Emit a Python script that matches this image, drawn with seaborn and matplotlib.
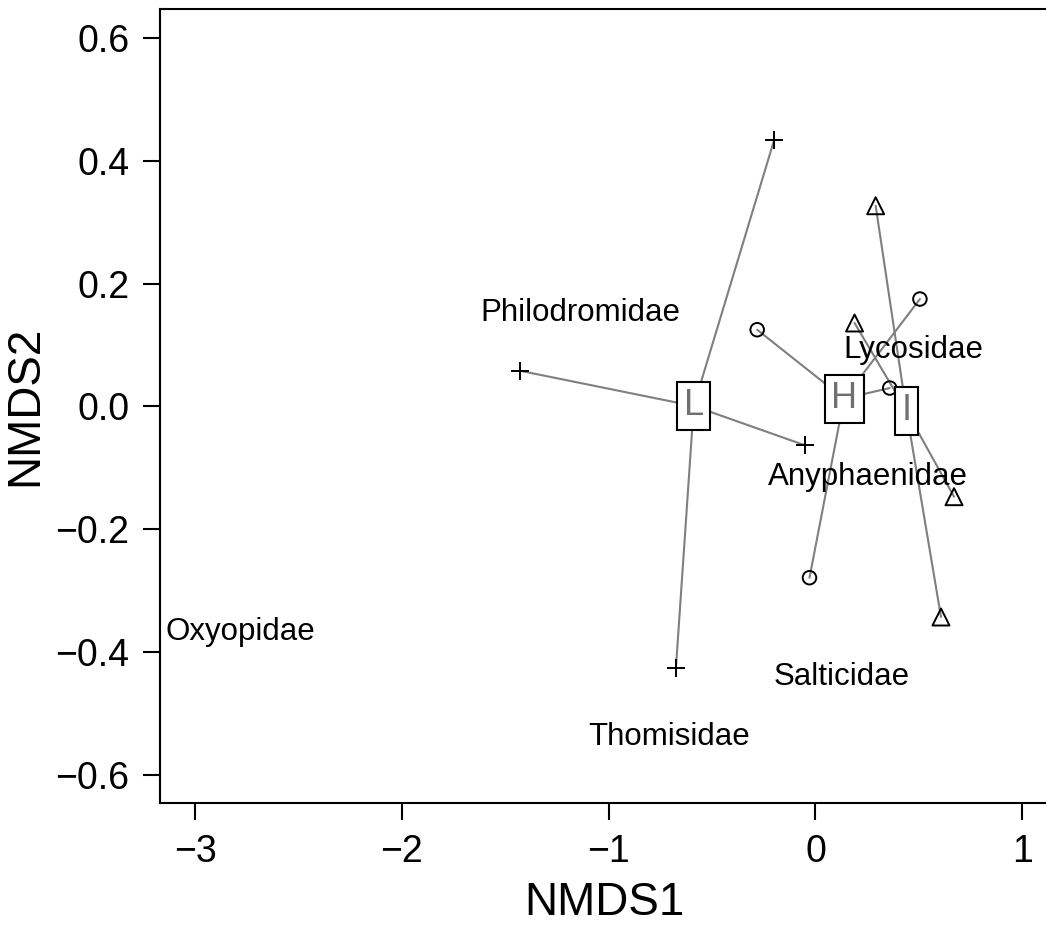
import numpy as np
import pandas as pd
import matplotlib
matplotlib.use("Agg")
import matplotlib.pyplot as plt
import seaborn as sns

# site scores (NMDS1, NMDS2) by habitat group
grp_L_x = [-0.20, -1.427, -0.053, -0.675]
grp_L_y = [0.434, 0.058, -0.063, -0.426]
grp_H_x = [-0.282, 0.505, 0.359, -0.029]
grp_H_y = [0.125, 0.175, 0.030, -0.279]
grp_I_x = [0.291, 0.189, 0.670, 0.607]
grp_I_y = [0.327, 0.136, -0.147, -0.343]

# family (species) scores
familias = ['Philodromidae', 'Lycosidae', 'Anyphaenidae', 'Oxyopidae', 'Salticidae', 'Thomisidae']
fam_x = [-1.136, 0.471, 0.252, -2.782, 0.126, -0.709]
fam_y = [0.152, 0.092, -0.115, -0.367, -0.440, -0.538]

grupos = ['L', 'H', 'I']
marcadores = {'L': '+', 'H': 'o', 'I': '^'}
tamaños = {'L': 180, 'H': 95, 'I': 150}

df = pd.concat([
    pd.DataFrame({'NMDS1': grp_L_x, 'NMDS2': grp_L_y, 'grupo': 'L'}),
    pd.DataFrame({'NMDS1': grp_H_x, 'NMDS2': grp_H_y, 'grupo': 'H'}),
    pd.DataFrame({'NMDS1': grp_I_x, 'NMDS2': grp_I_y, 'grupo': 'I'}),
], ignore_index=True)
centroides = df.groupby('grupo')[['NMDS1', 'NMDS2']].mean()

sns.set_style("ticks")
plt.rcParams['font.family'] = ['Liberation Sans', 'DejaVu Sans']

fig = plt.figure(figsize=(10.46, 9.31), dpi=100)
ax = fig.add_axes([0.153, 0.1375, 0.85, 0.8525])

# spider lines from centroid to each site
for g in grupos:
    cx, cy = centroides.loc[g]
    sub = df[df['grupo'] == g]
    for x, y in zip(sub['NMDS1'], sub['NMDS2']):
        ax.plot([cx, x], [cy, y], color='#7f7f7f', linewidth=1.5, zorder=1)

# site points
for g in grupos:
    sub = df[df['grupo'] == g]
    if marcadores[g] == '+':
        sns.scatterplot(data=sub, x='NMDS1', y='NMDS2', marker='+', s=tamaños[g],
                        color='black', linewidth=1.4, ax=ax, zorder=3, legend=False)
    else:
        sns.scatterplot(data=sub, x='NMDS1', y='NMDS2', marker=marcadores[g],
                        s=tamaños[g], facecolor='none',
                        edgecolor='black', linewidth=1.4, ax=ax, zorder=3, legend=False)

# centroid labels in boxes
for g in grupos:
    cx, cy = centroides.loc[g]
    ax.text(cx, cy, g, ha='center', va='center', fontsize=26, color='#707070',
            zorder=5,
            bbox=dict(boxstyle='square,pad=0.18', facecolor='white',
                      edgecolor='black', linewidth=1.5))

# family labels
for nombre, x, y in zip(familias, fam_x, fam_y):
    ax.text(x, y, nombre, ha='center', va='center', fontsize=22.5, color='black', zorder=4)

ax.set_xlim(-3.17, 1.13)
ax.set_ylim(-0.646, 0.647)
ax.set_xticks([-3, -2, -1, 0, 1])
ax.set_xticklabels(['\u22123', '\u22122', '\u22121', '0', '1'])
ax.set_yticks([-0.6, -0.4, -0.2, 0.0, 0.2, 0.4, 0.6])
ax.set_yticklabels(['\u22120.6', '\u22120.4', '\u22120.2', '0.0', '0.2', '0.4', '0.6'])
ax.tick_params(axis='both', direction='out', length=12, width=1.5,
               labelsize=27, pad=10, color='black', labelcolor='black')
for s in ['left', 'bottom', 'top']:
    ax.spines[s].set_linewidth(1.5)
    ax.spines[s].set_color('black')
ax.spines['right'].set_visible(False)
ax.set_xlabel('NMDS1', fontsize=33, labelpad=8, color='black')
ax.set_ylabel('NMDS2', fontsize=33, labelpad=6, color='black')

plt.savefig("out.png", dpi=100, facecolor='white')
plt.close()
